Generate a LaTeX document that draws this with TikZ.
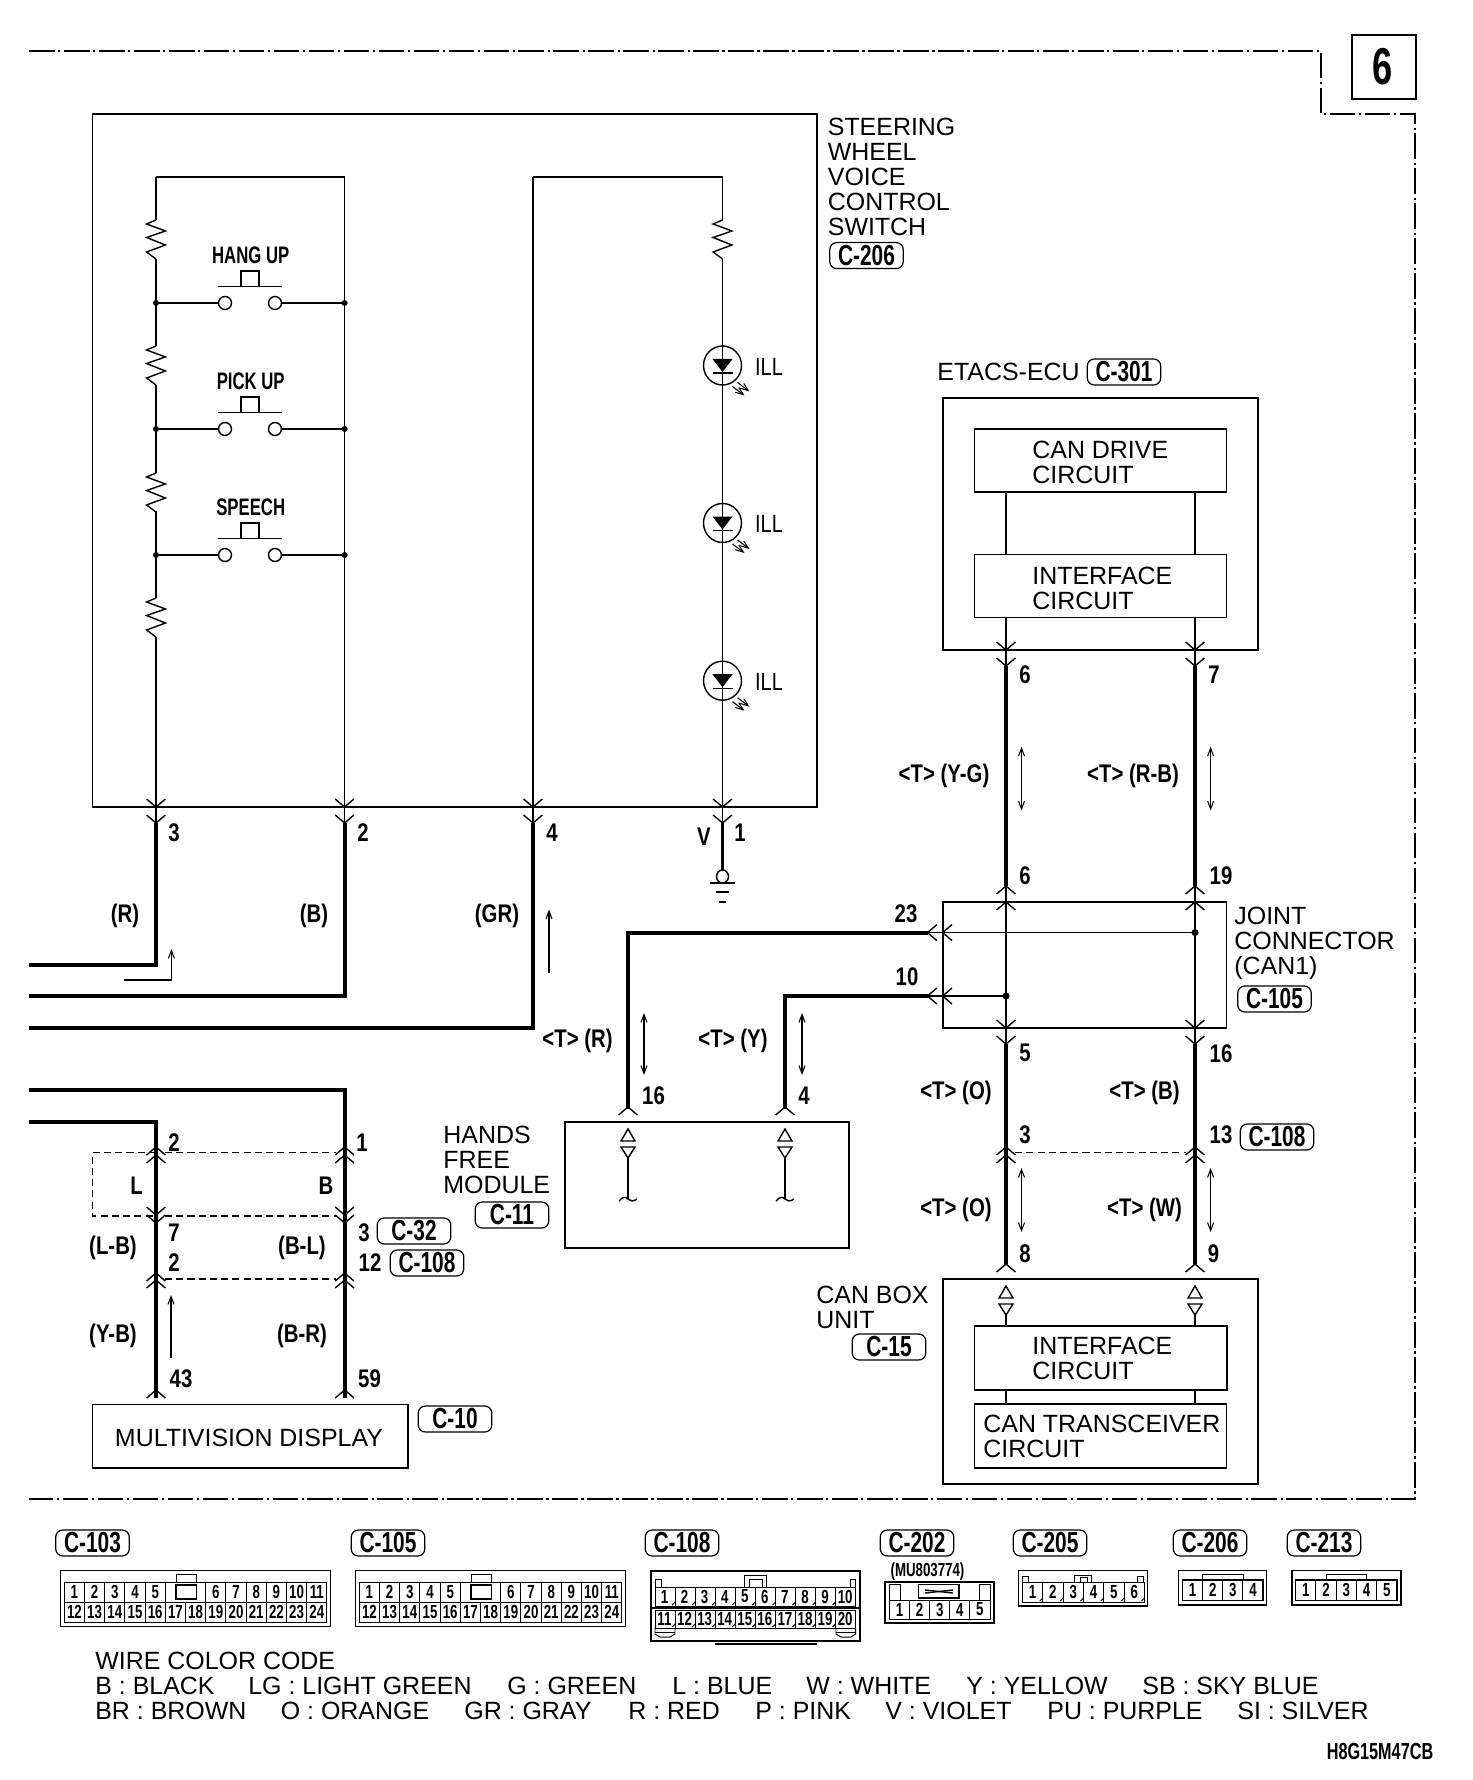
\documentclass[tikz,border=0pt]{standalone}
\usepackage{fontspec}
\setmainfont{Liberation Sans}
\newfontface\pinfont{Liberation Sans Bold}[FakeStretch=0.8]
\newfontface\tagfont{Liberation Sans Bold}[FakeStretch=0.72]
\newfontface\swfont{Liberation Sans Bold}[FakeStretch=0.7]
\newfontface\illfont{Liberation Sans}[FakeStretch=0.8]
\usetikzlibrary{arrows.meta,fit}

\tikzset{
  blockbox/.style = {draw, line width = 1pt, inner sep = 0pt},
  cellbox/.style = {draw, line width = 0.8pt, inner sep = 0pt},
  hairwire/.style = {line width = 0.55pt},
  thinwire/.style = {line width = 0.8pt},
  wire/.style = {line width = 2.2pt},
  framedash/.style = {line width = 0.9pt, dash pattern = on 14.6pt off 2pt on 1.3pt off 2pt},
  shortdash/.style = {line width = 0.8pt, dash pattern = on 4pt off 2.4pt},
  flow/.style = {line width = 0.6pt, -{Straight Barb[length = 4.5pt, width = 3.4pt]}},
  flowboth/.style = {line width = 0.6pt, {Straight Barb[length = 4.5pt, width = 3.4pt]}-{Straight Barb[length = 4.5pt, width = 3.4pt]}},
  name label/.style = {inner sep = 0pt, align = left, anchor = west, font = \fontsize{14.2}{14.2}\selectfont},
  pinlabel/.style = {inner sep = 0pt, text height = 10.4pt, text depth = 0pt, font = \pinfont\fontsize{14.5}{15}\selectfont},
  swlabel/.style = {inner sep = 0pt, font = \swfont\fontsize{13.6}{14}\selectfont},
  celllabel/.style = {inner sep = 0pt, font = \swfont\fontsize{10.8}{11}\selectfont},
  tagbox/.style = {draw, line width = 0.7pt, rounded corners = 4pt, inner sep = 0pt,
    minimum width = 1.47cm, minimum height = 0.52cm, font = \tagfont\fontsize{16.5}{17}\selectfont},
  forkdown/.pic = {\draw [thinwire] (-9.4, -8) -- (0, 0) -- (9.4, -8);},
  forkup/.pic = {\draw [thinwire] (-9.4, 8) -- (0, 0) -- (9.4, 8);},
  forkleft/.pic = {\draw [thinwire] (9.4, -8) -- (0, 0) -- (9.4, 8);},
  resistor/.pic = {\draw [thinwire] (0, 0) -- (-9.4, 4) -- (9.4, 11) -- (-9.4, 17.5) -- (9.4, 25) -- (-9.4, 32) -- (0, 39);},
  pushswitch/.pic = {
    \draw [thinwire] (-25, 0) ellipse (6.5 and 6.5);
    \draw [thinwire] (25, 0) ellipse (6.5 and 6.5);
    \draw [thinwire] (-32, -16.5) -- (32, -16.5);
    \draw [thinwire] (-9, -16.5) -- (-9, -32) -- (9, -32) -- (9, -16.5);
  },
  ledlamp/.pic = {
    \draw [thinwire] (0, 0) ellipse (19 and 19.5);
    \fill (-10, -6.5) -- (10, -6.5) -- (0, 6.5) -- cycle;
    \draw [thinwire] (-10, 7.5) -- (10, 7.5);
    \draw [flow] (15, 17) -- (27, 26);
    \draw [flow] (10, 21) -- (22, 30);
  },
  twoway/.pic = {
    \draw [thinwire] (0, 0) -- (-7, 12) -- (7, 12) -- cycle;
    \draw [thinwire] (-7, 18) -- (7, 18) -- (0, 29) -- cycle;
  },
}

\begin{document}
\begin{tikzpicture}[x = 0.02cm, y = -0.02cm]
\useasboundingbox (0, 0) rectangle (1472, 1780);

% outer frame and page number
\draw [framedash] (29, 51) -- (1321, 51) -- (1321, 114) -- (1415, 114) -- (1415, 1499) -- (29, 1499);
\node (pagebox) [draw, line width = 1.4pt, inner sep = 0pt, fit = {(1352, 35) (1416, 99)}] {};
\node (pagenum) [inner sep = 0pt, font = \swfont\fontsize{29.5}{30}\selectfont] at (1383, 67) {6};

% boxes
\node (swbox) [blockbox, fit = {(92.5, 113.7) (817, 807)}] {};
\node (ecubox) [blockbox, fit = {(943, 398) (1258, 650)}] {};
\node (drivebox) [cellbox, fit = {(974.5, 429) (1226.6, 492)}] {};
\node (ifaceA) [cellbox, fit = {(974.5, 554.5) (1226.6, 617.5)}] {};
\node (jointbox) [blockbox, fit = {(943, 902) (1226.6, 1028)}] {};
\node (freebox) [blockbox, fit = {(565, 1122) (848.7, 1248)}] {};
\node (canbox) [blockbox, fit = {(943, 1279) (1258, 1484)}] {};
\node (ifaceB) [cellbox, line width = 1.1pt, fit = {(974.5, 1326) (1226.6, 1390)}] {};
\node (xcvrbox) [cellbox, fit = {(974.5, 1404) (1226.6, 1468)}] {};
\node (dispbox) [cellbox, fit = {(92.5, 1404.7) (408, 1468)}] {};

% names
\node (swname) [name label] at (827.5, 177) {STEERING\\WHEEL\\VOICE\\CONTROL\\SWITCH};
\node (ecuname) [name label] at (937, 372) {ETACS-ECU};
\node (drivename) [name label] at (1032, 462) {CAN DRIVE\\CIRCUIT};
\node (ifaceAname) [name label] at (1032, 588) {INTERFACE\\CIRCUIT};
\node (jointname) [name label] at (1234, 943) {JOINT\\CONNECTOR\\(CAN1)};
\node (freename) [name label] at (443, 1160) {HANDS\\FREE\\MODULE};
\node (canname) [name label] at (816, 1307) {CAN BOX\\UNIT};
\node (ifaceBname) [name label] at (1032, 1358) {INTERFACE\\CIRCUIT};
\node (xcvrname) [name label] at (983, 1436) {CAN TRANSCEIVER\\CIRCUIT};
\node (dispname) [name label, anchor = center] at (249, 1438) {MULTIVISION DISPLAY};

% connector tags
\foreach \n/\x/\y in {206/866.5/255.6, 301/1124/372, 105/1274.5/999, 108/1277/1137, 11/512/1215, 32/414/1231, 15/889/1347, 10/455/1419}
  \node (tag\n) [tagbox] at (\x, \y) {C-\n};
\node (tagb) [tagbox] at (427, 1263) {C-108};

% switch side, thin lines
\coordinate (railA) at (156, 177);
\coordinate (railB) at (344.6, 177);
\coordinate (railC) at (533, 177);
\coordinate (railD) at (722.5, 177);
\coordinate (pinA) at (156, 807);
\coordinate (pinB) at (344.6, 807);
\coordinate (pinC) at (533, 807);
\coordinate (pinD) at (722.5, 807);
\coordinate (pinAlow) at (156, 823);
\coordinate (pinBlow) at (344.6, 823);
\coordinate (pinClow) at (533, 823);
\coordinate (pinDlow) at (722.5, 823);
\draw [thinwire] (railA) -- (156, 220);
\draw [thinwire] (railA) -- (railB);
\draw [hairwire] (railB) -- (pinB);
\draw [thinwire] (railC) -- (railD);
\draw [thinwire] (railC) -- (pinC);
\draw [hairwire] (railD) -- (722.5, 220);
\draw [hairwire] (722.5, 259) -- (pinD);
\draw [thinwire] (pinA) -- (pinAlow);
\draw [thinwire] (pinB) -- (pinBlow);
\draw [thinwire] (pinC) -- (pinClow);
\draw [thinwire] (pinD) -- (pinDlow);
\foreach \a/\b in {259/346, 385/473, 511/598, 637/807}
  \draw [thinwire] (156, \a) -- (156, \b);
\foreach \y in {220, 346, 473, 598}
  \pic at (156, \y) {resistor};
\pic at (722.5, 220) {resistor};
\foreach \y/\txt [count = \k] in {303/HANG UP, 429/PICK UP, 555/SPEECH} {
  \pic at (250, \y) {pushswitch};
  \coordinate (swleft\k) at (156, \y);
  \coordinate (swright\k) at (344.6, \y);
  \draw [thinwire] (swleft\k) -- (218.5, \y);
  \draw [thinwire] (281.5, \y) -- (swright\k);
  \fill (swleft\k) circle (3);
  \fill (swright\k) circle (3);
  \node (swtext\k) [swlabel] at (250.7, \y - 48) {\txt};
}
\foreach \y [count = \k] in {365.5, 523, 680.7} {
  \pic at (722.5, \y) {ledlamp};
  \node (ill\k) [inner sep = 0pt, font = \illfont\fontsize{14.2}{15}\selectfont] at (769, \y + 1) {ILL};
}

% ground
\coordinate (gndring) at (722.5, 870);
\draw [wire] (pinDlow) -- (gndring);
\draw [thinwire] (722.5, 876.5) ellipse (6 and 6.5);
\draw [thinwire] (710, 883) -- (735, 883);
\draw [thinwire] (716, 892) -- (729, 892);
\draw [thinwire] (719, 902) -- (726, 902);

% harness wires
\coordinate (harnA) at (29, 965);
\coordinate (harnB) at (29, 996);
\coordinate (harnC) at (29, 1028);
\coordinate (harnD) at (29, 1090);
\coordinate (harnE) at (29, 1122);
\coordinate (dispA) at (156, 1398);
\coordinate (dispB) at (344.6, 1398);
\draw [wire] (pinAlow) |- (harnA);
\draw [wire] (pinBlow) |- (harnB);
\draw [wire] (pinClow) |- (harnC);
\draw [wire] (harnD) -| (dispB);
\draw [wire] (harnE) -| (dispA);

% can wires
\coordinate (canA) at (1006, 492);
\coordinate (canB) at (1195, 492);
\coordinate (jointL) at (928, 932.6);
\coordinate (jointM) at (928, 996);
\coordinate (freeA) at (628, 1109);
\coordinate (freeB) at (785, 1109);
\coordinate (dotA) at (1195, 932.6);
\coordinate (dotB) at (1006, 996);
\draw [thinwire] (canA) -- (1006, 554.5);
\draw [thinwire] (canB) -- (1195, 554.5);
\draw [thinwire] (1006, 617.5) -- (1006, 666);
\draw [thinwire] (1195, 617.5) -- (1195, 666);
\draw [thinwire] (1006, 886) -- (1006, 1044);
\draw [thinwire] (1195, 886) -- (1195, 1044);
\foreach \x in {1006, 1195} {
  \draw [wire] (\x, 666) -- (\x, 886);
  \draw [wire] (\x, 1044) -- (\x, 1264);
  \draw [thinwire] (\x, 1315) -- (\x, 1326);
  \draw [thinwire] (\x, 1390) -- (\x, 1404);
  \pic at (\x, 1286) {twoway};
}
\draw [wire] (freeA) |- (jointL);
\draw [wire] (freeB) |- (jointM);
\draw [thinwire] (jointL) -- (dotA);
\draw [thinwire] (jointM) -- (dotB);
\fill (dotA) circle (3.5);
\fill (dotB) circle (3.5);
\foreach \x in {628, 785} {
  \pic at (\x, 1129) {twoway};
  \draw [thinwire] (\x, 1158) -- (\x, 1199);
  \draw [thinwire] (\x - 9, 1201) .. controls (\x - 5, 1196) and (\x - 2, 1197) .. (\x, 1199) .. controls (\x + 2, 1201) and (\x + 5, 1202) .. (\x + 9, 1199);
}

% forks
\foreach \x in {156, 344.6, 533, 722.5}
  \foreach \y in {807, 823}
    \pic at (\x, \y) {forkdown};
\foreach \x in {1006, 1195}
  \foreach \y in {650, 666, 1028, 1044}
    \pic at (\x, \y) {forkdown};
\foreach \x in {156, 344.6}
  \foreach \y in {1215, 1223}
    \pic at (\x, \y) {forkdown};
\foreach \x in {1006, 1195}
  \foreach \y in {886, 902, 1147, 1155, 1264}
    \pic at (\x, \y) {forkup};
\foreach \x in {156, 344.6}
  \foreach \y in {1147, 1155, 1273, 1280, 1390}
    \pic at (\x, \y) {forkup};
\foreach \x in {628, 785}
  \pic at (\x, 1107) {forkup};
\foreach \y in {932.6, 996}
  \foreach \x in {927.5, 942.6}
    \pic at (\x, \y) {forkleft};

% dashed ties
\draw [shortdash] (156, 1152.7) -- (92.5, 1152.7) -- (92.5, 1216) -- (156, 1216);
\draw [shortdash] (165, 1152.7) -- (336, 1152.7);
\draw [shortdash] (165, 1216) -- (336, 1216);
\draw [shortdash] (165, 1279) -- (336, 1279);
\draw [shortdash] (1015, 1152.7) -- (1186, 1152.7);

% current arrows
\draw [flow] (124, 980) -- (171.4, 980) -- (171.4, 949);
\draw [flow] (549, 972.6) -- (549, 909.5);
\draw [flow] (171, 1358) -- (171, 1295);
\draw [flowboth] (644, 1013) -- (644, 1075);
\draw [flowboth] (802, 1013) -- (802, 1075);
\foreach \x in {1021.5, 1210.6} {
  \draw [flowboth] (\x, 746.7) -- (\x, 810.5);
  \draw [flowboth] (\x, 1168) -- (\x, 1232);
}

% pin numbers and wire colours
\foreach \x/\y/\txt [count = \k] in {
  174/832/3, 363/832/2, 552/832/4, 740/832/1, 704/836/V,
  125/913/(R), 314/913/(B), 497/913/(GR),
  174/1142/2, 362/1142/1, 136.6/1185/L, 326/1185/B,
  174/1232/7, 174/1262/2, 364/1232/3, 370/1262/12,
  113/1245/(L-B), 302/1245/(B-L), 113/1333/(Y-B), 302/1333/(B-R),
  181/1378/43, 369.5/1378/59,
  653.5/1095/16, 804/1095/4, 577.5/1038.6/<T> (R), 733/1038.6/<T> (Y),
  1025/674/6, 1214/674/7, 944/773/<T> (Y-G), 1133/773/<T> (R-B),
  1025/875/6, 1221/875/19, 906/913/23, 907/976.5/10,
  1025/1052.6/5, 1221/1053/16, 956/1090/<T> (O), 1144.5/1090/<T> (B),
  1025/1134/3, 1221/1134/13, 956/1207/<T> (O), 1144.5/1207/<T> (W),
  1025/1253/8, 1213.5/1253/9}
  \node (lab\k) [pinlabel] at (\x, \y) {\txt};

% connector faces
\foreach \n/\x in {103/92.5, 105/388, 108/682, 202/917, 205/1050, 206/1210, 213/1324}
  \node (face\n) [tagbox] at (\x, 1543) {C-\n};

% 24 pin faces
\foreach \ox in {0, 295} {
  \begin{scope}[shift = {(\ox, 0)}]
    \node (body\ox) [cellbox, fit = {(60.5, 1570.7) (330.5, 1626.7)}] {};
    \draw [hairwire] (64.3, 1582) rectangle (326.9, 1622);
    \draw [hairwire] (64.3, 1602) -- (326.9, 1602);
    \foreach \i in {1, ..., 12}
      \draw [hairwire] ({64.3 + 20.2 * \i}, 1602) -- ({64.3 + 20.2 * \i}, 1622);
    \foreach \i in {1, 2, 3, 4, 5, 7, 8, 9, 10, 11, 12}
      \draw [hairwire] ({64.3 + 20.2 * \i}, 1582) -- ({64.3 + 20.2 * \i}, 1602);
    \draw [hairwire] (176, 1574.3) rectangle (196.7, 1582);
    \draw [thinwire] (176, 1585) rectangle (196.7, 1599);
    \foreach \i/\n in {0/1, 1/2, 2/3, 3/4, 4/5, 7/6, 8/7, 9/8, 10/9, 11/10, 12/11}
      \node (top\ox n\n) [celllabel] at ({74.4 + 20.2 * \i}, 1592) {\n};
    \foreach \i [count = \n from 12] in {0, ..., 12}
      \node (low\ox n\n) [celllabel] at ({74.4 + 20.2 * \i}, 1612) {\n};
  \end{scope}
}

% C-108 face
\node (body108) [cellbox, line width = 1.1pt, fit = {(650.7, 1570.7) (860.4, 1641)}] {};
\draw [wire, line width = 1.2pt] (714.6, 1644) -- (816.8, 1644);
\draw [hairwire] (655, 1587) rectangle (855.7, 1606);
\draw [hairwire] (655, 1610) rectangle (855.7, 1628);
\draw [thinwire] (650.7, 1608) -- (860.4, 1608);
\draw [hairwire] (655, 1579) rectangle (661, 1587);
\draw [hairwire] (850, 1579) rectangle (855.7, 1587);
\draw [hairwire] (744.5, 1575) rectangle (766.5, 1587);
\draw [hairwire] (749, 1579) rectangle (762, 1587);
\draw [hairwire] (655, 1628) -- (655, 1634) -- (660, 1637) -- (670, 1637) -- (675, 1634) -- (675, 1628);
\draw [hairwire] (836, 1628) -- (836, 1634) -- (841, 1637) -- (851, 1637) -- (855.7, 1634) -- (855.7, 1628);
\draw [hairwire] (655, 1632) -- (675, 1632);
\draw [hairwire] (836, 1632) -- (855.7, 1632);
\foreach \i in {1, ..., 9} {
  \draw [hairwire] ({655 + 20.07 * \i}, 1587) -- ({655 + 20.07 * \i}, 1606);
  \draw [hairwire] ({655 + 20.07 * \i}, 1610) -- ({655 + 20.07 * \i}, 1628);
  \draw [hairwire] ({655 + 20.07 * \i}, 1602) -- ({652 + 20.07 * \i}, 1605);
  \draw [hairwire] ({655 + 20.07 * \i}, 1624) -- ({652 + 20.07 * \i}, 1627);
}
\foreach \i [count = \n from 1] in {0, ..., 9}
  \node (o\n) [celllabel] at ({664.5 + 20.07 * \i}, 1596.5) {\n};
\foreach \i [count = \n from 11] in {0, ..., 9}
  \node (o\n) [celllabel] at ({664.5 + 20.07 * \i}, 1619) {\n};

% C-202 face
\node (part202) [celllabel] at (927.5, 1572) {(MU803774)};
\node (body202) [cellbox, line width = 1.1pt, fit = {(885, 1581.7) (993.7, 1623)}] {};
\draw [hairwire] (889.5, 1600) rectangle (990, 1619);
\draw [hairwire] (889.5, 1584) rectangle (900, 1600);
\draw [hairwire] (979.5, 1584) rectangle (990, 1600);
\draw [thinwire] (918.6, 1584.5) rectangle (959, 1598);
\draw [thinwire] (925, 1590) -- (953, 1593);
\draw [thinwire] (925, 1593) -- (953, 1590);
\foreach \i [count = \n from 1] in {0, ..., 4} {
  \node (p\n) [celllabel] at ({899.5 + 20.1 * \i}, 1609.5) {\n};
  \ifnum\i>0 \draw [hairwire] ({889.5 + 20.1 * \i}, 1600) -- ({889.5 + 20.1 * \i}, 1619); \fi
}

% C-205 face
\node (body205) [cellbox, fit = {(1018.6, 1570.7) (1147.7, 1606)}] {};
\draw [hairwire] (1022.4, 1582) rectangle (1144.5, 1602);
\draw [hairwire] (1022.4, 1576) rectangle (1028.4, 1582);
\draw [hairwire] (1137.5, 1576) rectangle (1143.5, 1582);
\draw [hairwire] (1074, 1575) rectangle (1091.4, 1582);
\draw [hairwire] (1080, 1577.5) rectangle (1087, 1582);
\foreach \i [count = \n from 1] in {0, ..., 5} {
  \node (q\n) [celllabel] at ({1032.5 + 20.35 * \i}, 1592) {\n};
  \draw [hairwire] ({1042.75 + 20.35 * \i}, 1598) -- ({1039.75 + 20.35 * \i}, 1601);
  \ifnum\i>0 \draw [hairwire] ({1022.4 + 20.35 * \i}, 1582) -- ({1022.4 + 20.35 * \i}, 1602); \fi
}

% C-206 and C-213 faces
\node (body206) [cellbox, fit = {(1178.7, 1570.7) (1266.5, 1605)}] {};
\draw [thinwire] (1182.5, 1580) rectangle (1263, 1600.7);
\draw [hairwire] (1202.7, 1574.7) rectangle (1243, 1580);
\foreach \i [count = \n from 1] in {0, ..., 3} {
  \node (r\n) [celllabel] at ({1192.6 + 20.15 * \i}, 1590) {\n};
  \ifnum\i>0 \draw [hairwire] ({1182.5 + 20.15 * \i}, 1580) -- ({1182.5 + 20.15 * \i}, 1600.7); \fi
}
\node (body213) [cellbox, fit = {(1291.9, 1570.7) (1400.8, 1605)}] {};
\draw [thinwire] (1295.6, 1580) rectangle (1397, 1600.7);
\draw [hairwire] (1326, 1574.7) rectangle (1366.5, 1580);
\foreach \i [count = \n from 1] in {0, ..., 4} {
  \node (s\n) [celllabel] at ({1305.7 + 20.28 * \i}, 1590) {\n};
  \ifnum\i>0 \draw [hairwire] ({1295.6 + 20.28 * \i}, 1580) -- ({1295.6 + 20.28 * \i}, 1600.7); \fi
}

% wire colour code
\node (codetitle) [name label] at (95, 1661) {WIRE COLOR CODE};
\foreach \x/\txt [count = \k] in {95/B : BLACK, 248/LG : LIGHT GREEN, 507/G : GREEN, 672/L : BLUE, 806/W : WHITE, 966/Y : YELLOW, 1142/SB : SKY BLUE}
  \node (codea\k) [name label] at (\x, 1686) {\txt};
\foreach \x/\txt [count = \k] in {95/BR : BROWN, 280.5/O : ORANGE, 464/GR : GRAY, 628/R : RED, 755/P : PINK, 885/V : VIOLET, 1047/PU : PURPLE, 1237/SI : SILVER}
  \node (codeb\k) [name label] at (\x, 1711) {\txt};
\node (drawno) [inner sep = 0pt, font = \swfont\fontsize{13.2}{14}\selectfont] at (1380, 1751) {H8G15M47CB};
\end{tikzpicture}
\end{document}
